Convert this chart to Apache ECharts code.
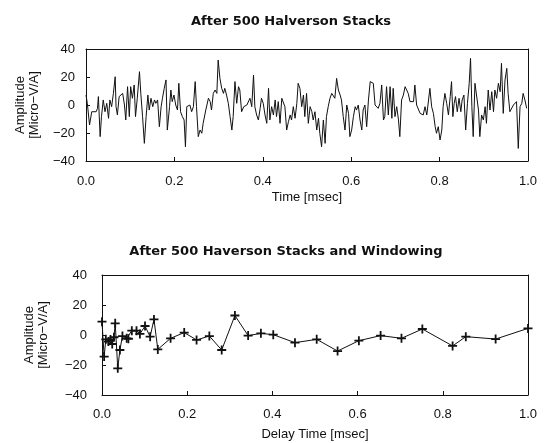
<!DOCTYPE html>
<html>
<head>
<meta charset="utf-8">
<style>
  html, body { margin: 0; padding: 0; background: #fff; }
  #chart-container { width: 545px; height: 443px; }
</style>
<script src="https://cdn.jsdelivr.net/npm/echarts@6/dist/echarts.min.js"></script>
</head>
<body>
<div id="chart-container"></div>
<script>
var dom = document.getElementById('chart-container');
var myChart = echarts.init(dom, null, { renderer: 'canvas' });

var titles = ['After 500 Halverson Stacks', 'After 500 Haverson Stacks and Windowing'];
var xNames = ['Time [msec]', 'Delay Time [msec]'];
var yName = 'Amplitude\n[Micro\u2212V/A]';

// [time msec, amplitude]
var stackedSignal = [
  [0, 7.1], [0.003, 1.2], [0.008, -14.3], [0.013, -4.8], [0.017, -3.6], [0.023, -4.8],
  [0.026, -2.4], [0.028, 6.0], [0.032, -22.6], [0.035, -8.3], [0.039, 3.6], [0.043, -4.8],
  [0.047, 1.2], [0.051, -9.5], [0.054, 3.6], [0.058, -1.2], [0.062, 8.3], [0.066, 20.2],
  [0.068, -1.2], [0.071, -7.1], [0.075, 6.0], [0.079, 7.1], [0.083, 8.3], [0.087, 0],
  [0.090, -10.7], [0.094, 13.1], [0.098, -8.3], [0.101, 13.1], [0.105, 4.8], [0.109, 14.3],
  [0.112, -8.3], [0.116, 4.8], [0.121, 23.8], [0.124, 8.3], [0.128, -8.3], [0.132, -27.4],
  [0.136, -8.3], [0.140, 7.1], [0.143, -3.6], [0.147, 4.8], [0.151, -1.2], [0.155, 3.6],
  [0.158, 1.2], [0.162, 3.6], [0.166, -15.5], [0.170, -1.2], [0.173, 4.8], [0.177, 11.9],
  [0.181, 17.9], [0.184, -17.9], [0.189, -1.2], [0.192, 10.7], [0.195, 2.4], [0.199, 7.1],
  [0.203, 0], [0.207, -3.6], [0.210, 15.5], [0.214, -4.8], [0.218, -8.3], [0.222, -10.7],
  [0.225, -29.8], [0.228, -1.2], [0.232, -1.2], [0.235, 0], [0.239, -4.8], [0.243, -1.2],
  [0.247, 16.7], [0.250, -1.2], [0.254, -22.6], [0.258, -17.9], [0.262, -20.2], [0.265, -13.1],
  [0.271, -3.6], [0.277, 4.8], [0.281, 2.4], [0.284, -3.6], [0.288, 8.3], [0.292, 10.7],
  [0.296, 8.3], [0.299, 32.1], [0.303, 19.0], [0.307, 11.9], [0.311, 8.3], [0.314, 11.9],
  [0.318, 7.1], [0.322, 1.2], [0.326, -8.3], [0.330, -17.9], [0.333, -8.3], [0.337, 16.7],
  [0.341, 1.2], [0.345, 13.1], [0.348, 10.7], [0.352, -4.8], [0.357, -1.2], [0.364, 0],
  [0.367, -1.2], [0.371, 4.8], [0.375, -1.2], [0.379, 21.4], [0.382, -1.2], [0.386, -7.1],
  [0.390, -10.7], [0.394, -2.4], [0.397, 4.8], [0.401, 1.2], [0.405, -7.1], [0.409, -13.1],
  [0.413, 11.9], [0.416, -10.7], [0.420, -1.2], [0.424, -7.1], [0.428, 3.6], [0.431, -8.3],
  [0.435, 2.4], [0.439, -13.1], [0.443, 4.8], [0.446, 3.6], [0.450, -1.2], [0.454, -17.9],
  [0.458, -11.9], [0.462, -7.1], [0.465, -10.7], [0.469, -1.2], [0.473, -9.5], [0.477, 1.2],
  [0.480, 15.5], [0.484, 11.9], [0.488, -1.2], [0.492, 7.1], [0.495, -8.3], [0.499, 8.3],
  [0.503, -13.1], [0.507, -1.2], [0.511, -4.8], [0.514, -10.7], [0.518, -4.8], [0.522, -17.9],
  [0.526, -9.5], [0.529, -20.2], [0.533, -29.8], [0.537, -10.7], [0.541, -27.4], [0.544, -8.3],
  [0.548, -1.2], [0.552, 4.8], [0.556, 8.3], [0.560, 9.5], [0.563, 4.8], [0.567, 19.0],
  [0.571, 10.7], [0.575, 7.1], [0.578, 3.6], [0.582, -8.3], [0.586, -17.9], [0.590, 0],
  [0.594, -6.0], [0.597, -22.6], [0.601, -17.9], [0.605, -8.3], [0.609, -1.2], [0.612, -3.6],
  [0.616, 0], [0.620, -10.7], [0.624, -17.9], [0.627, -3.6], [0.631, 0], [0.635, -15.5],
  [0.639, 3.6], [0.643, 16.7], [0.650, 15.5], [0.654, 0], [0.658, -1.2], [0.661, -2.4],
  [0.665, 1.2], [0.669, 14.3], [0.673, -10.7], [0.676, -8.3], [0.680, 13.1], [0.684, -7.1],
  [0.688, 13.1], [0.692, -9.5], [0.695, 11.9], [0.699, -8.3], [0.703, -1.2], [0.707, -10.7],
  [0.710, -22.6], [0.714, 3.6], [0.718, 7.1], [0.722, 13.1], [0.725, 14.3], [0.729, 8.3],
  [0.733, 2.4], [0.737, 1.2], [0.741, 2.4], [0.744, 14.3], [0.748, 0], [0.752, 1.2],
  [0.756, -6.0], [0.759, -4.8], [0.763, -7.1], [0.767, -1.2], [0.771, -7.1], [0.775, 3.6],
  [0.778, 11.9], [0.782, -1.2], [0.786, -6.0], [0.790, -15.5], [0.793, -20.2], [0.797, -15.5],
  [0.801, -25.0], [0.805, -17.9], [0.808, -1.2], [0.812, 8.3], [0.816, 1.2], [0.820, -7.1],
  [0.824, 6.0], [0.827, 16.7], [0.830, -8.3], [0.833, 1.2], [0.836, 6.0], [0.840, -4.8],
  [0.844, 4.8], [0.848, -4.8], [0.851, 3.6], [0.855, 7.1], [0.859, -17.9], [0.863, 1.2],
  [0.867, 15.5], [0.870, 33.3], [0.873, -1.2], [0.876, -22.6], [0.880, 15.5], [0.884, 16.7],
  [0.888, -3.6], [0.891, -22.6], [0.895, -7.1], [0.899, -10.7], [0.903, -1.2], [0.906, -13.1],
  [0.910, 10.7], [0.914, -3.6], [0.918, 9.5], [0.922, -4.8], [0.925, 10.7], [0.929, 4.8],
  [0.933, 15.5], [0.937, 9.5], [0.940, 29.8], [0.944, -6.0], [0.948, 17.9], [0.952, 26.2],
  [0.955, 8.3], [0.959, -4.8], [0.963, -3.6], [0.967, 0], [0.971, 1.2], [0.974, 2.4],
  [0.978, -31.0], [0.982, -1.2], [0.986, 1.2], [0.989, 8.3], [0.993, 3.6], [0.997, -2.4]
];

// [delay msec, amplitude] for the windowed points
var windowedPoints = [
  [0.000, 8.9], [0.005, -14.4], [0.009, -2.9], [0.015, -4.4], [0.020, -3.0], [0.024, -6.0],
  [0.028, -1.5], [0.031, 7.8], [0.037, -22.2], [0.042, -10.0], [0.048, -0.7], [0.058, -2.2],
  [0.062, -2.5], [0.070, 2.9], [0.081, 2.9], [0.089, 0.7], [0.101, 6.0], [0.113, -1.1],
  [0.122, 10.4], [0.131, -9.6], [0.161, -2.2], [0.193, 1.6], [0.222, -3.3], [0.252, -0.7],
  [0.281, -10.0], [0.312, 13.0], [0.343, -0.4], [0.373, 1.1], [0.402, 0.2], [0.453, -5.1],
  [0.504, -2.9], [0.553, -10.7], [0.603, -3.8], [0.654, -0.4], [0.703, -2.2], [0.752, 4.0],
  [0.823, -7.3], [0.854, -1.1], [0.924, -2.7], [1.0, 4.4]
];

var font = 'Liberation Sans';
var titleFont = 'DejaVu Sans';
var ink = '#111';
var plus = 'path://M4,0H6V4H10V6H6V10H4V6H0V4H4Z';

var yLabel = (v) => (v < 0 ? '\u2212' + Math.abs(v) : String(v));

function makeX(idx, gridIndex, gap, margin) {
  return {
    type: 'value', gridIndex: gridIndex, min: 0, max: 1, interval: 0.2,
    name: xNames[idx], nameLocation: 'middle', nameGap: gap,
    nameTextStyle: { fontFamily: font, fontSize: 13, color: ink },
    axisLine: { show: true, onZero: false, lineStyle: { color: ink, width: 1 } },
    axisTick: { inside: true, length: 4, lineStyle: { color: ink } },
    axisLabel: { fontFamily: font, fontSize: 13, color: ink, margin: margin,
      formatter: (v) => v.toFixed(1) },
    splitLine: { show: false },
  };
}

function makeY(gridIndex, gap, margin) {
  return {
    type: 'value', gridIndex: gridIndex, min: -40, max: 40, interval: 20,
    name: yName, nameLocation: 'middle', nameGap: gap, nameRotate: 90,
    nameTextStyle: { fontFamily: font, fontSize: 13, color: ink, lineHeight: 14 },
    axisLine: { show: true, onZero: false, lineStyle: { color: ink, width: 1 } },
    axisTick: { inside: true, length: 4, lineStyle: { color: ink } },
    axisLabel: { fontFamily: font, fontSize: 13, color: ink, margin: margin, formatter: yLabel },
    splitLine: { show: false },
  };
}

// plain edges that close the frame on top and right
function frameX(gridIndex) {
  return {
    type: 'value', gridIndex: gridIndex, position: 'top', min: 0, max: 1,
    axisLine: { show: true, onZero: false, lineStyle: { color: ink, width: 1 } },
    axisTick: { show: false }, axisLabel: { show: false }, splitLine: { show: false },
  };
}

function frameY(gridIndex) {
  return {
    type: 'value', gridIndex: gridIndex, position: 'right', min: -40, max: 40,
    axisLine: { show: true, onZero: false, lineStyle: { color: ink, width: 1 } },
    axisTick: { show: false }, axisLabel: { show: false }, splitLine: { show: false },
  };
}

var option = {
  animation: false,
  backgroundColor: '#fff',
  title: [
    { text: titles[0], left: 286, top: 10, textAlign: 'center',
      textStyle: { fontFamily: titleFont, fontSize: 13, fontWeight: 'bold', color: ink } },
    { text: titles[1], left: 281, top: 240, textAlign: 'center',
      textStyle: { fontFamily: titleFont, fontSize: 13, fontWeight: 'bold', color: ink } },
  ],
  grid: [
    { left: 86, right: 17, top: 49, height: 112 },
    { left: 102, right: 17, top: 275, height: 120 },
  ],
  xAxis: [makeX(0, 0, 30, 14), makeX(1, 1, 33, 13), frameX(0), frameX(1)],
  yAxis: [makeY(0, 45, 11), makeY(1, 52, 15), frameY(0), frameY(1)],
  series: [
    {
      type: 'line', xAxisIndex: 0, yAxisIndex: 0, data: stackedSignal,
      showSymbol: false, symbol: 'none',
      lineStyle: { color: ink, width: 1 },
    },
    {
      type: 'line', xAxisIndex: 1, yAxisIndex: 1, data: windowedPoints,
      symbol: plus, symbolSize: 9,
      itemStyle: { color: ink },
      lineStyle: { color: ink, width: 1 },
    },
  ],
};

if (option && typeof option === 'object') {
  myChart.setOption(option);
}

window.addEventListener('resize', myChart.resize);
</script>
</body>
</html>
